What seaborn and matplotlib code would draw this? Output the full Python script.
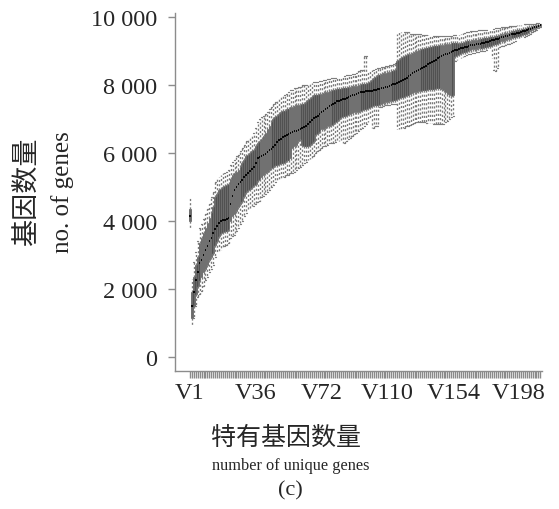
import numpy as np
import pandas as pd
import seaborn as sns
import matplotlib
matplotlib.use("Agg")
import matplotlib.pyplot as plt

# ---- data ----
tick_pos = [0, 34, 68, 102, 136, 170]
tick_labels = ["V1", "V36", "V72", "V110", "V154", "V198"]
y_ticks = [0, 2000, 4000, 6000, 8000, 10000]
y_tick_labels = ["0", "2 000", "4 000", "6 000", "8 000", "10 000"]

med = [4150,
       1500, 1900, 2250, 2500, 2750, 2850, 3000, 3150, 3250, 3400,
       3500, 3650, 3750, 3850, 3950, 4000, 4020, 4040, 4060, 4100,
       4500, 4750, 4900, 5000, 5080, 5150, 5220, 5280, 5350, 5400,
       5480, 5530, 5600, 5700, 5850, 5880, 5900, 5950, 5980, 6030,
       6080, 6130, 6180, 6250, 6320, 6370, 6420, 6470, 6500, 6530,
       6560, 6590, 6620, 6640, 6660, 6690, 6710, 6740, 6760, 6800,
       6860, 6920, 6980, 7020, 7060, 7100, 7150, 7200, 7240, 7290,
       7330, 7380, 7410, 7440, 7480, 7520, 7540, 7570, 7590, 7600,
       7620, 7650, 7680, 7700, 7720, 7740, 7760, 7790, 7800, 7800,
       7810, 7820, 7820, 7830, 7840, 7850, 7870, 7880, 7900, 7910,
       7930, 7950, 7970, 7990, 8020, 8040, 8060, 8090, 8120, 8150,
       8190, 8220, 8260, 8300, 8340, 8380, 8420, 8450, 8470, 8500,
       8540, 8570, 8610, 8650, 8690, 8720, 8750, 8780, 8810, 8840,
       8870, 8900, 8920, 8940, 8960, 8990, 9020, 9040, 9060, 9080,
       9100, 9110, 9130, 9150, 9170, 9180, 9190, 9200, 9210, 9220,
       9230, 9250, 9260, 9270, 9290, 9310, 9330, 9350, 9360, 9380,
       9400, 9410, 9430, 9450, 9470, 9490, 9500, 9510, 9530, 9540,
       9560, 9580, 9600, 9620, 9640, 9660, 9680, 9700, 9720, 9740, 9760]

q1 = [4000,
      1150, 1500, 1850, 2100, 2250, 2350, 2500, 2600, 2700, 2850,
      2950, 3050, 3300, 3400, 3550, 3650, 3680, 3700, 3720, 3750,
      4000, 4150, 4200, 4300, 4400, 4500, 4600, 4750, 4850, 4900,
      4950, 5000, 5050, 5100, 5200, 5250, 5300, 5350, 5400, 5450,
      5500, 5550, 5600, 5650, 5650, 5680, 5700, 5720, 5750, 5780,
      5800, 5850, 6150, 6200, 6250, 6350, 6400, 6250, 6220, 6200,
      6220, 6250, 6300, 6350, 6550, 6600, 6650, 6700, 6720, 6750,
      6780, 6800, 6820, 6850, 6900, 6950, 7000, 7050, 7100, 7100,
      7120, 7150, 7150, 7180, 7200, 7200, 7220, 7240, 7260, 7280,
      7300, 7320, 7350, 7380, 7400, 7400, 7420, 7450, 7450, 7480,
      7500, 7500, 7520, 7530, 7550, 7550, 7600, 7620, 7640, 7660,
      7680, 7700, 7720, 7750, 7760, 7780, 7800, 7820, 7830, 7850,
      7850, 7860, 7870, 7880, 7880, 7890, 7900, 7900, 7900, 7880,
      7850, 7800, 7750, 7700, 7680, 7700, 8850, 8880, 8920, 8940,
      8960, 8980, 9000, 9020, 9040, 9050, 9060, 9070, 9080, 9090,
      9100, 9120, 9130, 9140, 9160, 9180, 9200, 9220, 9230, 9270,
      9290, 9300, 9320, 9340, 9360, 9380, 9400, 9410, 9430, 9450,
      9470, 9490, 9510, 9540, 9560, 9590, 9610, 9640, 9670, 9700, 9730]

q3 = [4350,
      1900, 2350, 2700, 2950, 3350, 3500, 3650, 3800, 3950, 4100,
      4250, 4400, 4700, 4800, 4900, 4950, 5000, 5020, 5050, 5080,
      5250, 5350, 5400, 5450, 5500, 5600, 5700, 5800, 5900, 5950,
      6000, 6050, 6100, 6200, 6300, 6350, 6400, 6500, 6600, 6700,
      6800, 6900, 7000, 7050, 7100, 7150, 7200, 7250, 7250, 7300,
      7300, 7350, 7350, 7380, 7400, 7400, 7420, 7450, 7450, 7500,
      7550, 7600, 7650, 7700, 7700, 7720, 7740, 7750, 7770, 7780,
      7800, 7820, 7830, 7850, 7860, 7870, 7880, 7890, 7900, 7900,
      7920, 7940, 7950, 7960, 7970, 7980, 8000, 8000, 8020, 8030,
      8040, 8050, 8080, 8150, 8200, 8250, 8280, 8300, 8320, 8340,
      8350, 8370, 8380, 8400, 8420, 8450, 8700, 8750, 8800, 8820,
      8850, 8870, 8900, 8920, 8950, 8970, 9000, 9020, 9040, 9050,
      9070, 9090, 9100, 9120, 9130, 9140, 9150, 9160, 9170, 9180,
      9190, 9200, 9210, 9220, 9230, 9240, 9250, 9250, 9220, 9230,
      9250, 9260, 9280, 9290, 9300, 9310, 9320, 9330, 9340, 9350,
      9360, 9370, 9380, 9390, 9400, 9410, 9420, 9440, 9450, 9470,
      9490, 9500, 9520, 9540, 9560, 9570, 9580, 9590, 9610, 9620,
      9630, 9650, 9660, 9680, 9700, 9710, 9730, 9740, 9760, 9770, 9785]

lo = [3780,
      950, 1150, 1500, 1750, 1850, 1950, 2100, 2250, 2350, 2500,
      2600, 2700, 2950, 3050, 3100, 3150, 3200, 3250, 3300, 3350,
      3500, 3550, 3600, 3700, 3800, 3900, 4000, 4150, 4250, 4300,
      4350, 4400, 4450, 4500, 4550, 4600, 4700, 4750, 4800, 4850,
      4900, 5000, 5050, 5150, 5200, 5250, 5250, 5300, 5300, 5350,
      5350, 5400, 5400, 5450, 5500, 5550, 5600, 5650, 5700, 5750,
      5800, 5820, 5850, 5900, 6000, 6050, 6100, 6150, 6200, 6220,
      6250, 6280, 6300, 6300, 6320, 6350, 6350, 6380, 6300, 6300,
      6350, 6400, 6450, 6500, 6550, 6600, 6650, 6700, 6750, 6800,
      6850, 6900, 7000, 6750, 6750, 6800, 6800, 7350, 7350, 7380,
      7400, 7400, 7420, 7430, 7450, 7450, 6700, 6700, 6720, 6750,
      6750, 6780, 6800, 6820, 6850, 6870, 6900, 6900, 6920, 6900,
      6900, 6880, 6880, 6870, 6870, 6860, 6860, 6850, 6850, 6850,
      6850, 6900, 6950, 7000, 7050, 7100, 8700, 8750, 8780, 8800,
      8820, 8850, 8880, 8900, 8920, 8940, 8950, 8960, 8980, 8990,
      9000, 9010, 9020, 9040, 9050, 8800, 8450, 8400, 8500, 9120,
      9150, 9160, 9180, 9200, 9220, 9250, 9270, 9290, 9310, 9330,
      9360, 9390, 9420, 9450, 9480, 9510, 9550, 9590, 9630, 9670, 9710]

hi = [4720,
      2300, 2800, 3100, 3400, 3800, 3900, 4050, 4200, 4350, 4500,
      4700, 4850, 5150, 5250, 5300, 5350, 5400, 5420, 5450, 5500,
      5650, 5750, 5800, 5900, 5950, 6050, 6150, 6250, 6350, 6400,
      6450, 6500, 6600, 6750, 6900, 7000, 7050, 7100, 7150, 7200,
      7300, 7350, 7450, 7500, 7550, 7600, 7650, 7700, 7700, 7750,
      7800, 7850, 7850, 7900, 7900, 7950, 7950, 8000, 8000, 8000,
      8000, 8050, 8050, 8100, 8100, 8100, 8120, 8130, 8150, 8150,
      8180, 8180, 8200, 8200, 8220, 8230, 8250, 8250, 8260, 8260,
      8280, 8300, 8300, 8320, 8330, 8350, 8400, 8450, 8450, 8850,
      8850, 8400, 8400, 8450, 8450, 8480, 8500, 8500, 8520, 8520,
      8550, 8550, 8580, 8600, 8620, 8650, 9500, 9550, 9550, 9560,
      9560, 9550, 9550, 9500, 9500, 9500, 9500, 9500, 9500, 9480,
      9480, 9470, 9470, 9460, 9460, 9450, 9450, 9450, 9440, 9440,
      9440, 9440, 9440, 9450, 9450, 9460, 9460, 9470, 9480, 9500,
      9520, 9530, 9550, 9560, 9580, 9590, 9600, 9600, 9610, 9610,
      9620, 9620, 9630, 9630, 9640, 9650, 9660, 9670, 9680, 9690,
      9700, 9700, 9710, 9720, 9730, 9740, 9740, 9750, 9760, 9760,
      9770, 9770, 9780, 9780, 9790, 9790, 9800, 9800, 9810, 9810, 9800]

N = len(med)
groups = list(range(N))

# long-form table: five observations per group give exact box statistics
vals = np.column_stack([lo, q1, med, q3, hi]).ravel()
df = pd.DataFrame({"g": np.repeat(groups, 5), "v": vals})

sns.set_style("white")
plt.rcParams['font.family'] = ['Liberation Serif', 'Noto Sans CJK SC', 'DejaVu Sans']

W, H = 559, 510
fig = plt.figure(figsize=(W / 100, H / 100), dpi=100)
ax = fig.add_axes([175 / W, (H - 372) / H, 366.5 / W, 358 / H])

sns.boxplot(data=df, x="g", y="v", order=groups, ax=ax, whis=(0, 100),
            width=0.8, color="#6a6a6a", saturation=1, linecolor="#3c3c3c",
            linewidth=0.4, fliersize=0,
            whiskerprops=dict(color="#7a7a7a", linestyle=(0, (1.6, 1.6)), linewidth=0.95),
            capprops=dict(color="#7a7a7a", linewidth=0.9),
            medianprops=dict(color="black", linewidth=1.3))

ax.set_xlim(-7.75, 181.6)
ax.set_ylim(-412, 10118)
ax.set_xticks(groups)
xlabels = [""] * N
for p, t in zip(tick_pos, tick_labels):
    xlabels[p] = t
ax.set_xticklabels(xlabels)
ax.set_yticks(y_ticks)
ax.set_yticklabels(y_tick_labels)
ax.set_xlabel("")
ax.set_ylabel("")

ax.tick_params(axis='y', length=5, width=1, color='#8c8c8c', pad=8,
               labelsize=17.5, left=True)
ax.tick_params(axis='x', length=5, width=1.0, color='#8a8a8a', pad=3,
               labelsize=17.5, bottom=True)
for s in ["top", "right"]:
    ax.spines[s].set_visible(False)
for s in ["left", "bottom"]:
    ax.spines[s].set_color('#8c8c8c')
    ax.spines[s].set_linewidth(1.0)

fig.text(27 / W, 1 - 192 / H, "基因数量", rotation=90, ha='center', va='center',
         fontsize=19.5, family=['Noto Sans CJK SC', 'DejaVu Sans'])
fig.text(63 / W, 1 - 192 / H, "no. of genes", rotation=90, ha='center', va='center',
         fontsize=18)
fig.text(286 / W, 1 - 438 / H, "特有基因数量", ha='center', va='center',
         fontsize=18, family=['Noto Sans CJK SC', 'DejaVu Sans'])
fig.text(291 / W, 1 - 466 / H, "number of unique genes", ha='center', va='center',
         fontsize=11.8)
fig.text(290 / W, 1 - 491 / H, "(c)", ha='center', va='center', fontsize=16)

fig.savefig("out.png", dpi=100)
